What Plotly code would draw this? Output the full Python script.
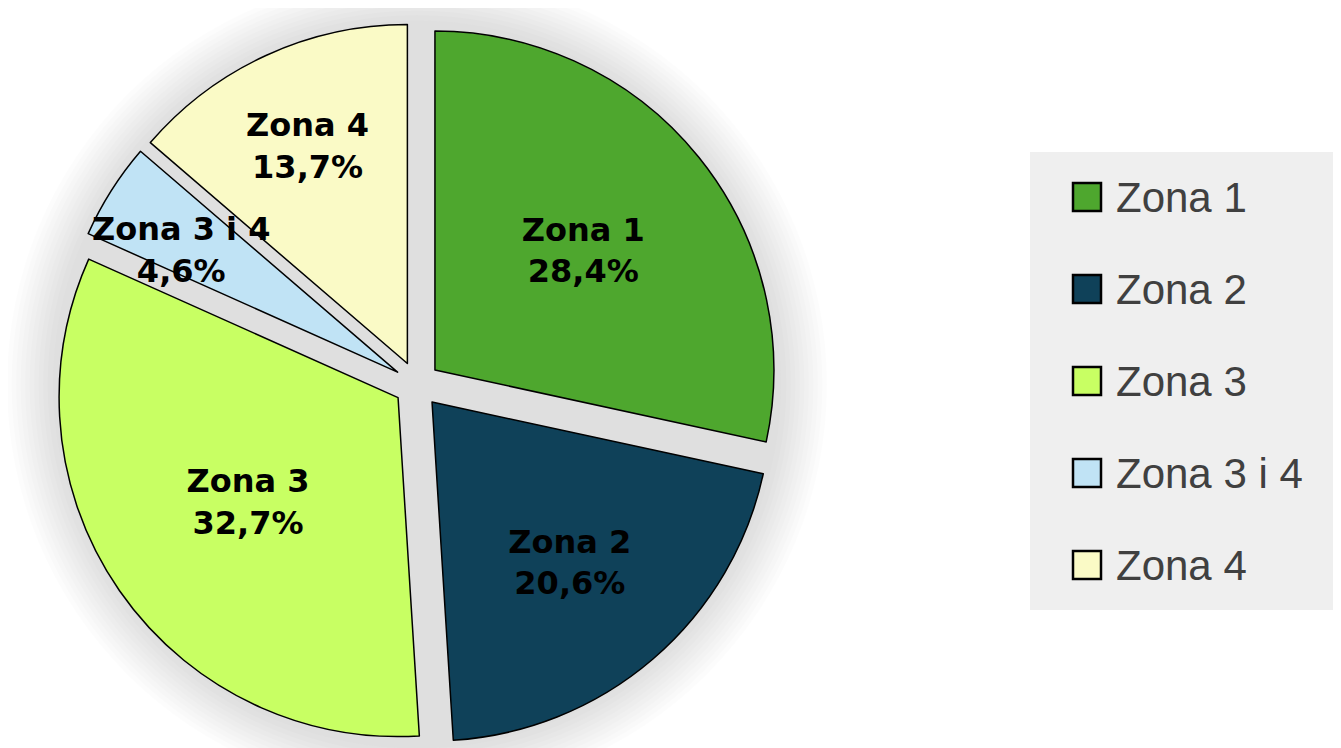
import plotly.graph_objects as go

# ---- data ----
labels = ["Zona 1", "Zona 2", "Zona 3", "Zona 3 i 4", "Zona 4"]
values = [28.4, 20.6, 32.7, 4.6, 13.7]
colors = ["#4ea72e", "#0f4159", "#c8ff63", "#c0e3f5", "#fafac6"]

W, H = 1341, 748
FONT = "Liberation Sans, Arial, sans-serif"
LABEL_FONT = "DejaVu Sans, sans-serif"
OFF = 8  # page body margin offset

# pie geometry (pixels in screenshot)
cx, cy = 417, 384.5
half = 362
pull = 0.068

def px_x(x):
    return (x - OFF) / W

def px_y(y):
    return 1 - (y - OFF) / H

fig = go.Figure()

textpos = ["inside", "inside", "inside", "none", "inside"]

fig.add_trace(go.Pie(
    labels=labels,
    values=values,
    sort=False,
    direction="clockwise",
    rotation=0,
    pull=[pull] * len(values),
    marker=dict(colors=colors, line=dict(color="#000000", width=1.5)),
    texttemplate="<b>%{label}</b><br><b>%{percent:.1%}</b>",
    textposition=textpos,
    insidetextorientation="horizontal",
    textfont=dict(family=LABEL_FONT, size=32, color="#000000"),
    domain=dict(x=[px_x(cx - half), px_x(cx + half)],
                y=[px_y(cy + half), px_y(cy - half)]),
    showlegend=False,
    hoverinfo="label+percent",
))

shapes = []
# soft halo around the pie
for i in range(10):
    r = half + 48 - i * 4.5
    shapes.append(dict(type="circle", xref="paper", yref="paper", layer="below",
                       x0=px_x(cx - r), x1=px_x(cx + r), y0=px_y(cy + r), y1=px_y(cy - r),
                       fillcolor="rgba(0,0,0,0.011)", line=dict(width=0)))
shapes.append(dict(type="circle", xref="paper", yref="paper", layer="below",
                   x0=px_x(cx - half - 2), x1=px_x(cx + half + 2),
                   y0=px_y(cy + half + 2), y1=px_y(cy - half - 2),
                   fillcolor="#dfdfdf", line=dict(width=0)))

# legend box
lx0, lx1, ly0, ly1 = 1030, 1345, 152, 610
shapes.append(dict(type="rect", xref="paper", yref="paper", layer="below",
                   x0=px_x(lx0), x1=px_x(lx1), y0=px_y(ly1), y1=px_y(ly0),
                   fillcolor="#efefef", line=dict(width=0)))

annotations = []
sq = 28
for i, (lab, col) in enumerate(zip(labels, colors)):
    yc = 197 + 92 * i
    shapes.append(dict(type="rect", xref="paper", yref="paper",
                       x0=px_x(1073), x1=px_x(1073 + sq),
                       y0=px_y(yc + sq / 2), y1=px_y(yc - sq / 2),
                       fillcolor=col, line=dict(color="#000000", width=2.5)))
    annotations.append(dict(xref="paper", yref="paper", x=px_x(1114), y=px_y(yc),
                            xanchor="left", yanchor="middle", showarrow=False,
                            text=lab, font=dict(family=FONT, size=42, color="#404040")))

# label for the narrow slice, placed over its wedge as in the original
total = sum(values)
pct = f"{values[3] / total * 100:.1f}%".replace(".", ",")
annotations.append(dict(xref="paper", yref="paper", x=px_x(181), y=px_y(250),
                        xanchor="center", yanchor="middle", showarrow=False,
                        text=f"<b>{labels[3]}</b><br><b>{pct}</b>",
                        font=dict(family=LABEL_FONT, size=32, color="#000000")))

fig.update_layout(
    width=W, height=H,
    margin=dict(l=0, r=0, t=0, b=0),
    paper_bgcolor="#ffffff",
    plot_bgcolor="#ffffff",
    separators=",.",
    shapes=shapes,
    annotations=annotations,
    showlegend=False,
)

fig.write_html("out.html")
